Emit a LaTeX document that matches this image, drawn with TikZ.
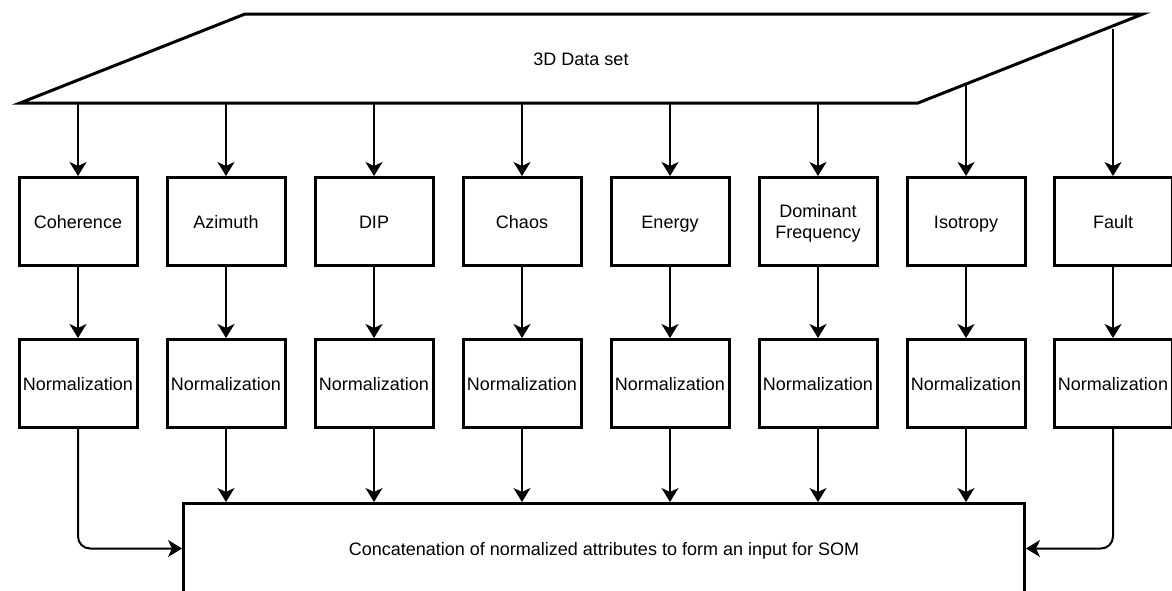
\documentclass[tikz,border=0pt]{standalone}
\usepackage{fontspec}
\setmainfont{Liberation Sans}
\usetikzlibrary{arrows.meta}
\begin{document}
\begin{tikzpicture}[x=1pt,y=-1pt,font=\fontsize{18}{21}\selectfont,
  box/.style={draw,line width=3pt,minimum width=118pt,minimum height=88pt,inner sep=0pt,align=center,text height=13pt,text depth=0pt},
  conn/.style={line width=2pt,-{Stealth[length=14pt,width=17pt,inset=4pt]}},
  frame/.style={line width=3pt}]
\useasboundingbox (0,0) rectangle (1172,590);
% data set parallelogram
\draw[frame] (245,14) -- (1143,14) -- (918,103) -- (20,103) -- cycle;
\node[text height=13pt,text depth=0pt] (ds) at (581,59) {3D Data set};
% attribute boxes
\foreach \i/\x/\t in {1/78/Coherence,2/226/Azimuth,3/374/DIP,4/522/Chaos,5/670/Energy,7/966/Isotropy,8/1113/Fault}{
  \node[box] (a\i) at (\x,221.5) {\t};
}
\node[box,text height=34pt] (a6) at (818,221.5) {Dominant\\Frequency};
\foreach \i/\x in {1/78,2/226,3/374,4/522,5/670,6/818,7/966,8/1113}{
  \node[box] (n\i) at (\x,383.5) {Normalization};
}
% start points on the parallelogram
\foreach \i/\x in {1/78,2/226,3/374,4/522,5/670,6/818}{
  \coordinate (t\i) at (\x,103);
}
\coordinate (t7) at (966,85);
\coordinate (t8) at (1113,29);
% bottom box
\node[box,minimum width=841pt,minimum height=90pt] (c) at (604,548.5) {Concatenation of normalized attributes to form an input for SOM};
% connectors
\foreach \i in {1,...,8}{
  \draw[conn] (t\i) -- (a\i.north);
  \draw[conn] (a\i.south) -- (n\i.north);
}
\foreach \i in {2,...,7}{
  \draw[conn] (n\i.south) -- (n\i.south |- c.north);
}
\draw[conn,rounded corners=12pt] (n1.south) |- (c.west);
\draw[conn,rounded corners=12pt] (n8.south) |- (c.east);
\end{tikzpicture}
\end{document}
